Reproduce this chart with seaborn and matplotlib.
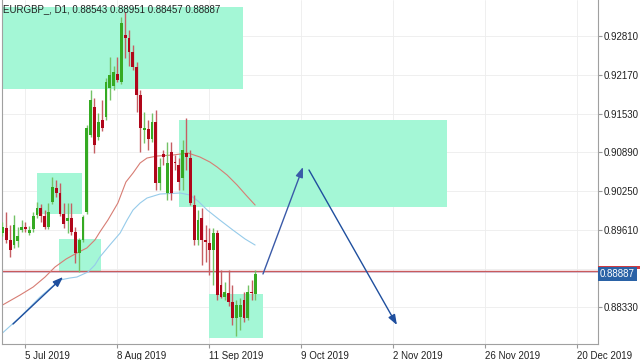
import numpy as np
import pandas as pd
import matplotlib
matplotlib.use("Agg")
import matplotlib.pyplot as plt
import matplotlib.transforms as mtrans
from matplotlib.patches import Rectangle
import seaborn as sns

# EURGBP daily candles, end of Jun -> end of Sep 2019
opens = [
    0.89559, 0.89641, 0.89443, 0.89360, 0.89426, 0.89608, 0.89658, 0.89559, 0.89625, 0.89856,
    0.89972, 0.89840, 0.89658, 0.90071, 0.90302, 0.90220, 0.89873, 0.89757, 0.89806, 0.89575,
    0.89228, 0.89443, 0.89906, 0.91178, 0.91641, 0.91145, 0.91426, 0.91476, 0.91955, 0.91988,
    0.92187, 0.92055, 0.92831, 0.92782, 0.92550, 0.92302, 0.91840, 0.91261, 0.91278, 0.91112,
    0.91393, 0.90385, 0.90864, 0.90220, 0.90897, 0.90732, 0.90683, 0.90468, 0.90881, 0.90798,
    0.90021, 0.89443, 0.89806, 0.89443, 0.89393, 0.89277, 0.89559, 0.88699, 0.88501, 0.88567,
    0.88418, 0.88153, 0.88170, 0.88451, 0.88153, 0.88583, 0.88543]
highs = [
    0.89740, 0.89906, 0.89691, 0.89856, 0.89658, 0.89773, 0.89740, 0.89674, 0.89906, 0.90071,
    0.90038, 0.89939, 0.90054, 0.90484, 0.90435, 0.90385, 0.90054, 0.90054, 0.90054, 0.89658,
    0.89476, 0.89856, 0.91344, 0.91922, 0.91790, 0.91542, 0.91757, 0.92121, 0.92468, 0.92319,
    0.92468, 0.93129, 0.93212, 0.92914, 0.92666, 0.92385, 0.91922, 0.91559, 0.91426, 0.91542,
    0.91592, 0.90798, 0.90930, 0.91063, 0.91063, 0.90848, 0.90798, 0.91096, 0.91459, 0.90930,
    0.90187, 0.89939, 0.89972, 0.89691, 0.89641, 0.89641, 0.89608, 0.88947, 0.88749, 0.88947,
    0.88699, 0.88451, 0.88484, 0.88583, 0.88699, 0.88782, 0.88951]
lows = [
    0.89509, 0.89393, 0.89162, 0.89311, 0.89327, 0.89575, 0.89575, 0.89525, 0.89575, 0.89806,
    0.89740, 0.89625, 0.89625, 0.90038, 0.90154, 0.89840, 0.89641, 0.89559, 0.89525, 0.89063,
    0.88914, 0.89410, 0.89873, 0.91145, 0.90881, 0.91096, 0.91245, 0.91426, 0.91757, 0.91922,
    0.92055, 0.92021, 0.92451, 0.92319, 0.92253, 0.91559, 0.90897, 0.91046, 0.90930, 0.91063,
    0.90269, 0.90269, 0.90683, 0.90104, 0.90104, 0.90600, 0.90269, 0.90269, 0.90600, 0.90021,
    0.89360, 0.89360, 0.89030, 0.89079, 0.88864, 0.88699, 0.88451, 0.88484, 0.88451, 0.88352,
    0.88038, 0.87856, 0.87955, 0.88087, 0.88120, 0.88451, 0.88457]
closes = [
    0.89658, 0.89443, 0.89277, 0.89691, 0.89509, 0.89658, 0.89625, 0.89608, 0.89840, 0.89972,
    0.89840, 0.89658, 0.89906, 0.90319, 0.90220, 0.89873, 0.89707, 0.89806, 0.89575, 0.89228,
    0.89443, 0.89823, 0.91294, 0.91757, 0.91013, 0.91393, 0.91294, 0.92055, 0.92170, 0.92220,
    0.92088, 0.93030, 0.92782, 0.92550, 0.92302, 0.91840, 0.91294, 0.91294, 0.91112, 0.91393,
    0.90385, 0.90649, 0.90815, 0.90716, 0.90220, 0.90716, 0.90402, 0.90930, 0.90815, 0.90054,
    0.89443, 0.89773, 0.89443, 0.89410, 0.89277, 0.89559, 0.88534, 0.88501, 0.88583, 0.88418,
    0.88153, 0.88368, 0.88368, 0.88153, 0.88583, 0.88567, 0.88887]

# moving averages
ma_red_bar = [0, 4.6, 8.0, 11.1, 13.7, 16.6, 19.4, 22.0, 24.1, 25.4, 27.5, 30.1, 32.2,
              34.05, 35.9, 37.7, 40.3, 44.5, 48.4, 51.5, 54.1, 56.0, 58.6, 61.2, 63.5, 65.9]
ma_red = [0.88368, 0.88534, 0.88666, 0.88831, 0.88997, 0.89129, 0.89228, 0.89311, 0.89443,
          0.89575, 0.89773, 0.90054, 0.90402, 0.90550, 0.90716, 0.90798, 0.90831, 0.90848,
          0.90881, 0.90815, 0.90732, 0.90649, 0.90517, 0.90352, 0.90187, 0.90021]
ma_blue_bar = [0, 4.6, 9.8, 15.0, 17.6, 19.4, 22.3, 24.1, 25.4, 28.0, 30.7, 32.5, 34.05,
               35.9, 37.7, 41.1, 46.3, 48.9, 51.0, 53.4, 56.7, 60.1, 63.3, 65.9]
ma_blue = [0.87906, 0.88170, 0.88501, 0.88782, 0.88815, 0.88831, 0.88914, 0.89030, 0.89162,
           0.89360, 0.89559, 0.89773, 0.89939, 0.90054, 0.90137, 0.90203, 0.90220, 0.90187,
           0.90087, 0.89939, 0.89773, 0.89608, 0.89459, 0.89360]

tick_bars = [6, 30, 54, 78, 102, 126, 150]
tick_dates = ["5 Jul 2019", "8 Aug 2019", "11 Sep 2019", "9 Oct 2019",
              "2 Nov 2019", "26 Nov 2019", "20 Dec 2019"]
price_ticks = [0.88330, 0.88970, 0.89610, 0.90250, 0.90890, 0.91530, 0.92170, 0.92810]

# drawn objects: supply/demand zones (bar from, bar to, price low, price high) and arrows
zones = [(-0.13, 62.75, 0.91939, 0.93294),
         (46.05, 115.97, 0.89988, 0.91426),
         (9.0, 20.74, 0.89873, 0.90550),
         (14.74, 25.7, 0.88930, 0.89459),
         (53.87, 67.96, 0.87823, 0.88550)]
arrows = [((2.74, 0.88054), (15.78, 0.88831), "#1f4f9e"),
          ((67.96, 0.88881), (78.4, 0.90649), "#3a5aa8"),
          ((79.96, 0.90600), (102.9, 0.88038), "#1f4f9e")]
level_line = 0.88937
title = "EURGBP_, D1, 0.88543 0.88951 0.88457 0.88887"

df = pd.DataFrame({"open": opens, "high": highs, "low": lows, "close": closes})
df["bar"] = np.arange(len(df))
up = df["close"] >= df["open"]

sns.set_style("white")
plt.rcParams["font.family"] = ["Liberation Sans", "DejaVu Sans"]

fig = plt.figure(figsize=(6.4, 3.6), dpi=100)
ax = fig.add_axes([2 / 640, 16 / 360, 596 / 640, 344 / 360])
ax.set_xlim(-0.13, 155.36)
ax.set_ylim(0.87724, 0.93410)

for x0, x1, y0, y1 in zones:
    ax.add_patch(Rectangle((x0, y0), x1 - x0, y1 - y0, facecolor="#a4f7d6",
                           edgecolor="none", zorder=1))

ax.axhline(level_line - 0.00022, color="#cfd0ea", lw=1.2, zorder=2)
ax.axhline(level_line, color="#c95a5c", lw=1.0, zorder=2.1)

sns.lineplot(x=ma_red_bar, y=ma_red, ax=ax, color="#d77d74", lw=0.8, zorder=2.2)
sns.lineplot(x=ma_blue_bar, y=ma_blue, ax=ax, color="#96cbea", lw=0.8, zorder=2.2)

wick_col = np.where(up, "#74c266", "#c65e63")
body_col = np.where(up, "#35aa22", "#b0061a")
ax.vlines(df["bar"], df["low"], df["high"], colors=wick_col, lw=1, zorder=3)
body_h = np.maximum((df["close"] - df["open"]).abs(), 0.00005)
ax.bar(df["bar"], body_h, bottom=df[["open", "close"]].min(axis=1), width=0.72,
       color=body_col, linewidth=0, zorder=4)

for start, end, col in arrows:
    ax.annotate("", xy=end, xytext=start,
                arrowprops=dict(arrowstyle="-|>,head_length=0.6,head_width=0.22",
                                color=col, lw=1.0, shrinkA=0, shrinkB=0), zorder=6)

# axes cosmetics, MT4 style
ax.grid(True, color="#ededed", lw=0.6)
ax.set_axisbelow(True)
ax.set_xticks(tick_bars)
ax.set_xticklabels(tick_dates, fontsize=7, color="#222222")
for lbl in ax.get_xticklabels():
    lbl.set_horizontalalignment("left")
ax.yaxis.tick_right()
ax.set_yticks(price_ticks)
# the 0.88970 label sits under the price tags, as in the terminal
ax.set_yticklabels(["" if abs(p - 0.8897) < 1e-6 else f"{p:.5f}" for p in price_ticks],
                   fontsize=7, color="#222222")
ax.tick_params(axis="x", length=3, pad=2, color="#999999", bottom=True)
ax.tick_params(axis="y", length=3, pad=1, color="#999999", right=True, left=False)
ax.spines["top"].set_visible(False)
for s in ["left", "right", "bottom"]:
    ax.spines[s].set_color("#a0a0a0")
    ax.spines[s].set_linewidth(0.8)

trans = mtrans.blended_transform_factory(ax.transAxes, ax.transData)
# red level tag, mostly hidden behind the bid tag
ax.add_patch(Rectangle((1.0, 0.88958), 42 / 596, 0.00062, transform=trans,
                       facecolor="#d03a40", edgecolor="none", zorder=9, clip_on=False))
ax.text(1.003, closes[-1], f"{closes[-1]:.5f}", transform=trans, ha="left", va="center",
        fontsize=7, color="white",
        bbox=dict(boxstyle="square,pad=0.2", fc="#2a62a6", ec="none"),
        zorder=10, clip_on=False)

fig.text(3 / 640, 1 - 9 / 360, title, fontsize=7, color="#222222", va="center")

fig.savefig("out.png", dpi=100)
